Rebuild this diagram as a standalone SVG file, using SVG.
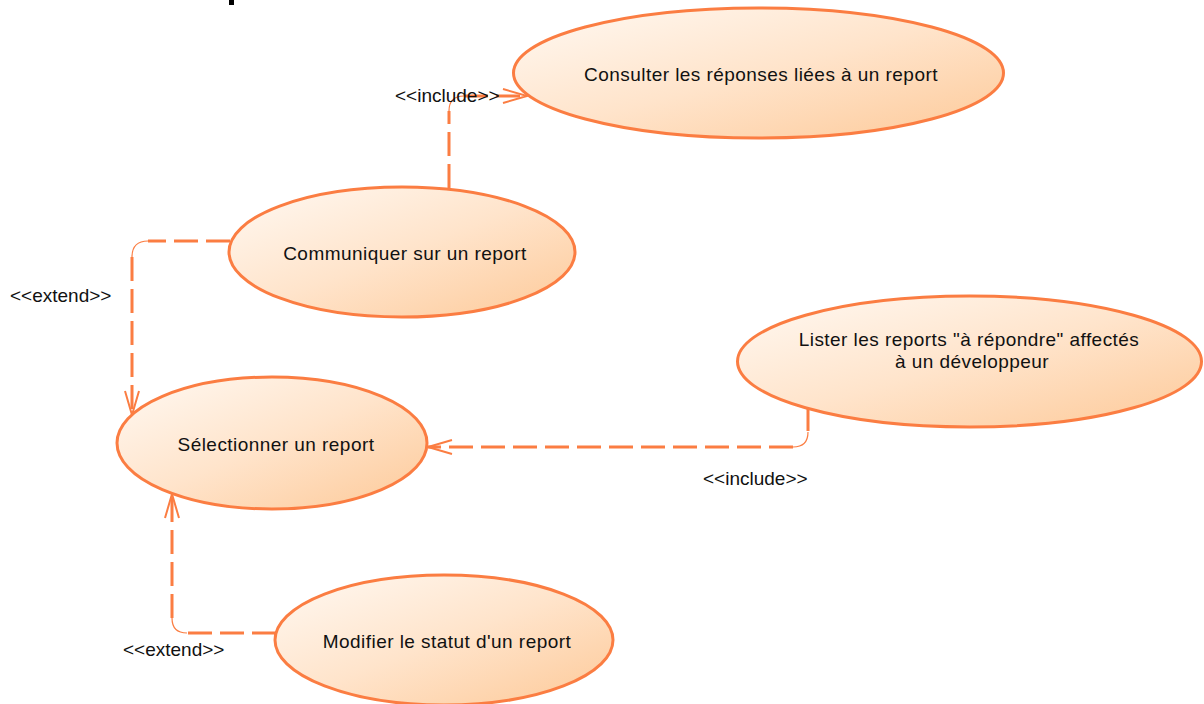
<svg xmlns="http://www.w3.org/2000/svg" width="1204" height="704" viewBox="0 0 1204 704">
  <defs>
    <linearGradient id="ucFill" x1="0" y1="0" x2="1" y2="1">
      <stop offset="0" stop-color="#fff9f3"/>
      <stop offset="0.5" stop-color="#ffe4cb"/>
      <stop offset="1" stop-color="#fdc998"/>
    </linearGradient>
    <marker id="openArrow" markerUnits="userSpaceOnUse" viewBox="-26 -10 28 20" markerWidth="28" markerHeight="20" refX="0" refY="0" orient="auto" overflow="visible">
      <path d="M-24,-7 L0,0 L-24,7" fill="none" stroke="#fb7d42" stroke-width="2"/>
    </marker>
    <style>
      .uc { fill: url(#ucFill); stroke: #fb7d42; stroke-width: 3; }
      .lbl { font-family: "Liberation Sans", Arial, sans-serif; font-size: 19px; fill: #111; }
      .name { letter-spacing: 0.45px; }
      .mid { text-anchor: middle; }
      .dash { fill: none; stroke: #fb7d42; stroke-width: 3; stroke-dasharray: 24 8; }
      .bend { fill: none; stroke: #fb7d42; stroke-width: 1.2; }
    </style>
  </defs>

  <rect width="1204" height="704" fill="#ffffff"/>
  <!-- tail of the heading above the sheet -->
  <rect x="229" y="0" width="5" height="5" fill="#000"/>

  <!-- connectors -->
  <g id="connectors">
    <!-- Communiquer -> Consulter (include) -->
    <path class="dash" d="M449,188 V111"/>
    <path class="bend" d="M449,111 Q449,96 464,96"/>
    <path class="dash" d="M464,96 H527" marker-end="url(#openArrow)"/>
    <!-- Communiquer -> Sélectionner (extend) -->
    <path class="dash" d="M230,241 H148"/>
    <path class="bend" d="M148,241 Q132,241 132,257"/>
    <path class="dash" d="M132,257 V415" marker-end="url(#openArrow)"/>
    <!-- Lister -> Sélectionner (include) -->
    <path class="dash" d="M808,407 V432"/>
    <path class="bend" d="M808,432 Q808,447 793,447"/>
    <path class="dash" d="M793,447 H428" marker-end="url(#openArrow)"/>
    <!-- Modifier -> Sélectionner (extend) -->
    <path class="dash" d="M276,633 H187"/>
    <path class="bend" d="M187,633 Q172,633 172,618"/>
    <path class="dash" d="M172,618 V494" marker-end="url(#openArrow)"/>

    <text class="lbl" x="395" y="102">&lt;&lt;include&gt;&gt;</text>
    <text class="lbl" x="10" y="302">&lt;&lt;extend&gt;&gt;</text>
    <text class="lbl" x="703" y="485">&lt;&lt;include&gt;&gt;</text>
    <text class="lbl" x="123" y="656">&lt;&lt;extend&gt;&gt;</text>
  </g>

  <g id="uc-consulter">
    <ellipse class="uc" cx="758.5" cy="73" rx="245" ry="65"/>
    <text class="lbl name mid" x="761" y="81">Consulter les réponses liées à un report</text>
  </g>

  <g id="uc-communiquer">
    <ellipse class="uc" cx="402" cy="252" rx="173" ry="65"/>
    <text class="lbl name mid" x="405" y="260">Communiquer sur un report</text>
  </g>

  <g id="uc-lister">
    <ellipse class="uc" cx="969.5" cy="361.5" rx="232" ry="65.5"/>
    <text class="lbl name mid" x="969" y="346">Lister les reports "à répondre" affectés</text>
    <text class="lbl name mid" x="972" y="368">à un développeur</text>
  </g>

  <g id="uc-selectionner">
    <ellipse class="uc" cx="272" cy="443" rx="155" ry="66"/>
    <text class="lbl name mid" x="276" y="451">Sélectionner un report</text>
  </g>

  <g id="uc-modifier">
    <ellipse class="uc" cx="444" cy="640" rx="169" ry="65"/>
    <text class="lbl name mid" x="447" y="648">Modifier le statut d'un report</text>
  </g>
</svg>
